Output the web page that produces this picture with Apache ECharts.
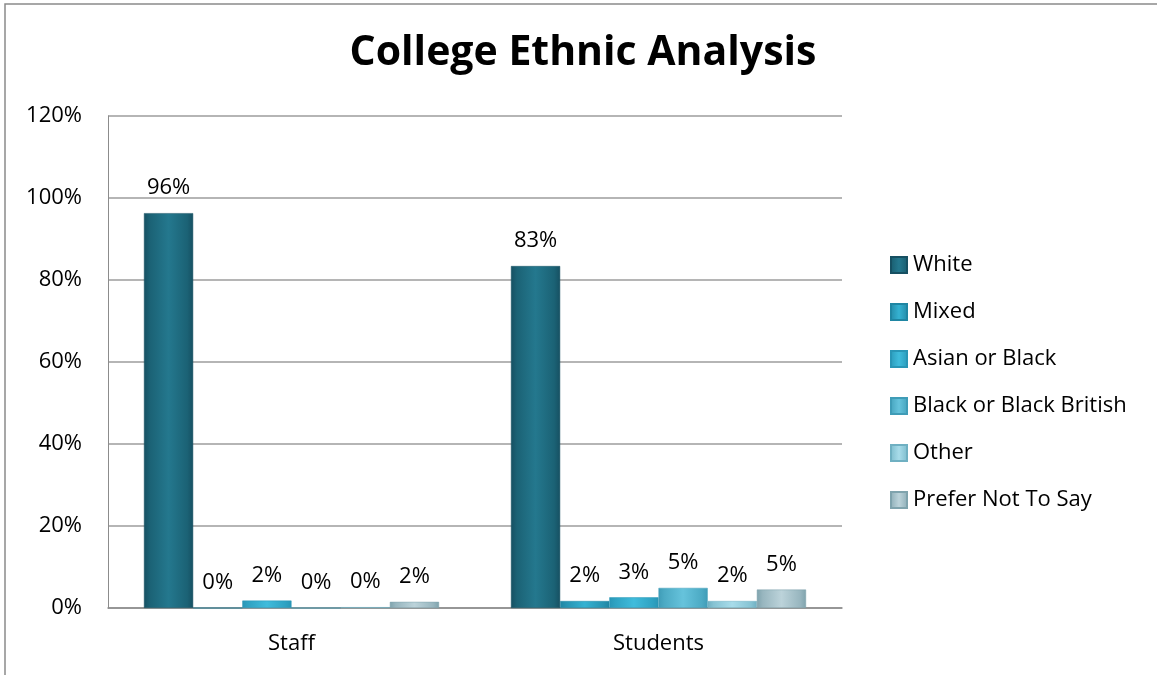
<!DOCTYPE html>
<html>
<head>
<meta charset="utf-8">
<script src="https://cdn.jsdelivr.net/npm/echarts@6/dist/echarts.min.js"></script>
<style>
html,body{margin:0;padding:0;background:#fff;}
#c{width:1157px;height:675px;}
</style>
</head>
<body>
<div id="c"></div>
<script>
var categories = ['Staff', 'Students'];
var seriesNames = ['White', 'Mixed', 'Asian or Black', 'Black or Black British', 'Other', 'Prefer Not To Say'];
var white = [0.963, 0.834];
var mixed = [0.0, 0.017];
var asian = [0.018, 0.026];
var blackBritish = [0.0, 0.049];
var other = [0.002, 0.017];
var preferNot = [0.015, 0.045];
var yTicks = [0, 0.2, 0.4, 0.6, 0.8, 1.0, 1.2];

var values = [white, mixed, asian, blackBritish, other, preferNot];
var baseColors = [
  ['#165062', '#24788e', '#1b6275'],
  ['#1f86a3', '#35b2d2', '#2793b1'],
  ['#2996b6', '#40bcdc', '#2fa2c2'],
  ['#3f9cb7', '#66c3dc', '#4caac4'],
  ['#6fb0c2', '#a8dcea', '#86c3d3'],
  ['#7fa3ad', '#bcd3da', '#98b6bf']
];
var FONT = 'Open Sans';

function grad(c) {
  return new echarts.graphic.LinearGradient(0, 0, 1, 0, [
    {offset: 0, color: c[0]},
    {offset: 0.12, color: c[2]},
    {offset: 0.5, color: c[1]},
    {offset: 0.88, color: c[2]},
    {offset: 1, color: c[0]}
  ]);
}

var chart = echarts.init(document.getElementById('c'), null, {renderer: 'canvas'});
var series = seriesNames.map(function (n, i) {
  return {
    name: n,
    type: 'bar',
    data: values[i],
    barGap: '0%',
    barCategoryGap: '19.6%',
    itemStyle: {color: grad(baseColors[i]), borderColor: baseColors[i][0], borderWidth: 0.5},
    label: {
      show: true,
      position: 'top',
      distance: 14,
      color: '#000',
      fontFamily: FONT,
      fontSize: 22,
      formatter: function (p) { return Math.round(p.value * 100) + '%'; }
    }
  };
});

chart.setOption({
  animation: false,
  backgroundColor: '#fff',
  color: baseColors.map(function (c) { return c[1]; }),
  title: {
    text: 'College Ethnic Analysis',
    left: 578,
    textAlign: 'center',
    top: 28,
    textStyle: {fontFamily: FONT, fontWeight: 'bold', fontSize: 41, color: '#000'}
  },
  grid: {left: 108, right: 315, top: 116, bottom: 67, containLabel: false},
  legend: {
    orient: 'vertical',
    left: 885,
    top: 248,
    itemWidth: 16,
    itemHeight: 16,
    itemGap: 23,
    icon: 'rect',
    textStyle: {fontFamily: FONT, fontSize: 22, color: '#000', lineHeight: 24, padding: [0, 0, 0, 1]},
    data: seriesNames.map(function (n, i) {
      return {name: n, itemStyle: {color: grad(baseColors[i])}};
    })
  },
  xAxis: {
    type: 'category',
    data: categories,
    axisLine: {show: true, lineStyle: {color: '#8c8c8c', width: 1.5}},
    axisTick: {show: false},
    axisLabel: {fontFamily: FONT, fontSize: 22, color: '#000', margin: 25}
  },
  yAxis: {
    type: 'value',
    min: yTicks[0],
    max: yTicks[yTicks.length - 1],
    interval: 0.2,
    axisLine: {show: true, lineStyle: {color: '#8c8c8c', width: 1}},
    axisTick: {show: false},
    splitLine: {show: true, lineStyle: {color: '#9c9c9c', width: 1.5}},
    axisLabel: {
      fontFamily: FONT, fontSize: 22, color: '#000', margin: 26,
      formatter: function (v) { return Math.round(v * 100) + '%'; }
    }
  },
  graphic: [{
    type: 'polyline',
    shape: {points: [[5, 675], [5, 4], [1157, 4]]},
    style: {stroke: '#8a8a8a', lineWidth: 1.5, fill: null},
    silent: true
  }],
  series: series
});
</script>
</body>
</html>
